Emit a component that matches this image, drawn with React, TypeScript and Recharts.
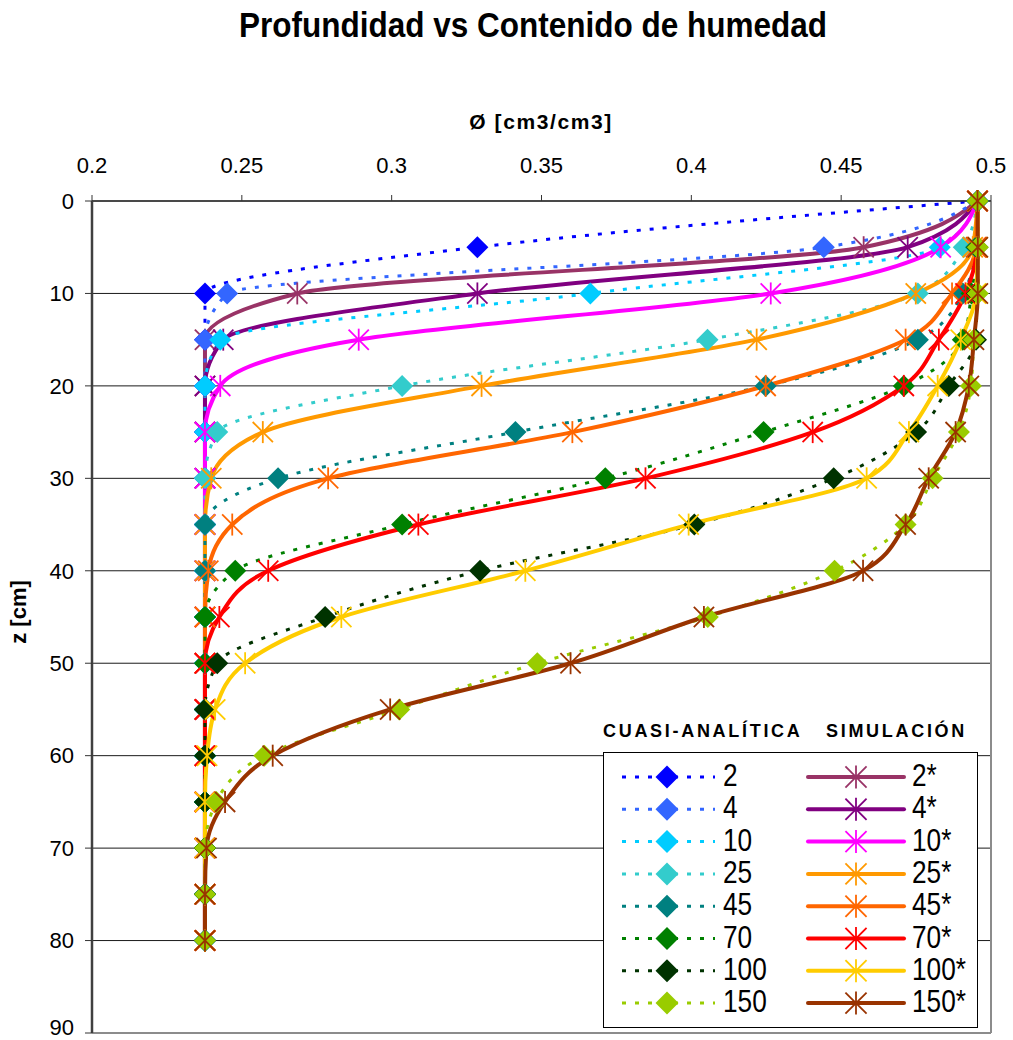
import React from 'react';
import { LineChart, Line, XAxis, YAxis, CartesianGrid, ReferenceLine } from 'recharts';

// depth of each profile point (cm)
const depths = [0, 5, 10, 15, 20, 25, 30, 35, 40, 45, 50, 55, 60, 65, 70, 75, 80];
const thetaTicks = [0.2, 0.25, 0.3, 0.35, 0.4, 0.45, 0.5];
const depthTicks = [0, 10, 20, 30, 40, 50, 60, 70, 80, 90];

// quasi-analytic solution, water content (cm3/cm3) per depth
const q2 = [0.4955, 0.3286, 0.2377, 0.2377, 0.2377, 0.2377, 0.2377, 0.2377, 0.2377, 0.2377, 0.2377, 0.2377, 0.2377, 0.2377, 0.2377, 0.2377, 0.2377];
const q4 = [0.4955, 0.4442, 0.2451, 0.2377, 0.2377, 0.2377, 0.2377, 0.2377, 0.2377, 0.2377, 0.2377, 0.2377, 0.2377, 0.2377, 0.2377, 0.2377, 0.2377];
const q10 = [0.4955, 0.4829, 0.3663, 0.2428, 0.2377, 0.2377, 0.2377, 0.2377, 0.2377, 0.2377, 0.2377, 0.2377, 0.2377, 0.2377, 0.2377, 0.2377, 0.2377];
const q25 = [0.4955, 0.4909, 0.4756, 0.4054, 0.3035, 0.2418, 0.2377, 0.2377, 0.2377, 0.2377, 0.2377, 0.2377, 0.2377, 0.2377, 0.2377, 0.2377, 0.2377];
const q45 = [0.4955, 0.495, 0.4906, 0.4756, 0.4248, 0.3413, 0.2621, 0.2377, 0.2377, 0.2377, 0.2377, 0.2377, 0.2377, 0.2377, 0.2377, 0.2377, 0.2377];
const q70 = [0.4955, 0.4953, 0.4935, 0.4906, 0.4709, 0.4241, 0.3713, 0.3035, 0.2478, 0.2377, 0.2377, 0.2377, 0.2377, 0.2377, 0.2377, 0.2377, 0.2377];
const q100 = [0.4955, 0.4955, 0.4953, 0.495, 0.4859, 0.475, 0.4475, 0.401, 0.3295, 0.2778, 0.2418, 0.2377, 0.2377, 0.2377, 0.2377, 0.2377, 0.2377];
const q150 = [0.4955, 0.4956, 0.4956, 0.4943, 0.4933, 0.4893, 0.4805, 0.4715, 0.4478, 0.4055, 0.3486, 0.3025, 0.2575, 0.2415, 0.2377, 0.2377, 0.2377];

// numerical simulation, water content (cm3/cm3) per depth
const s2 = [0.4955, 0.4575, 0.2685, 0.2377, 0.2377, 0.2377, 0.2377, 0.2377, 0.2377, 0.2377, 0.2377, 0.2377, 0.2377, 0.2377, 0.2377, 0.2377, 0.2377];
const s4 = [0.4955, 0.4722, 0.3286, 0.2438, 0.2377, 0.2377, 0.2377, 0.2377, 0.2377, 0.2377, 0.2377, 0.2377, 0.2377, 0.2377, 0.2377, 0.2377, 0.2377];
const s10 = [0.4955, 0.4832, 0.4265, 0.289, 0.2428, 0.2377, 0.2377, 0.2377, 0.2377, 0.2377, 0.2377, 0.2377, 0.2377, 0.2377, 0.2377, 0.2377, 0.2377];
const s25 = [0.4955, 0.4939, 0.4749, 0.4218, 0.33, 0.257, 0.2398, 0.2377, 0.2377, 0.2377, 0.2377, 0.2377, 0.2377, 0.2377, 0.2377, 0.2377, 0.2377];
const s45 = [0.4955, 0.495, 0.487, 0.4715, 0.4248, 0.3603, 0.2788, 0.2468, 0.2388, 0.2377, 0.2377, 0.2377, 0.2377, 0.2377, 0.2377, 0.2377, 0.2377];
const s70 = [0.4955, 0.4953, 0.4915, 0.4826, 0.4709, 0.4405, 0.3847, 0.3089, 0.2588, 0.2425, 0.2377, 0.2377, 0.2377, 0.2377, 0.2377, 0.2377, 0.2377];
const s100 = [0.4955, 0.4955, 0.495, 0.4899, 0.4822, 0.4726, 0.4585, 0.3991, 0.3446, 0.2832, 0.2511, 0.2411, 0.2384, 0.2377, 0.2377, 0.2377, 0.2377];
const s150 = [0.4955, 0.4956, 0.4956, 0.4943, 0.4926, 0.4882, 0.4792, 0.4715, 0.4573, 0.4042, 0.3597, 0.2995, 0.2603, 0.2444, 0.2382, 0.2377, 0.2377];

type Series = { key: string; label: string; color: string; values: number[]; sim: boolean };

// drawn in this order: each analytic profile followed by its simulated one
const series: Series[] = [
  { key: 'q2', label: '2', color: '#0000FF', values: q2, sim: false },
  { key: 's2', label: '2*', color: '#993366', values: s2, sim: true },
  { key: 'q4', label: '4', color: '#3366FF', values: q4, sim: false },
  { key: 's4', label: '4*', color: '#800080', values: s4, sim: true },
  { key: 'q10', label: '10', color: '#00CCFF', values: q10, sim: false },
  { key: 's10', label: '10*', color: '#FF00FF', values: s10, sim: true },
  { key: 'q25', label: '25', color: '#33CCCC', values: q25, sim: false },
  { key: 's25', label: '25*', color: '#FF9900', values: s25, sim: true },
  { key: 'q45', label: '45', color: '#008080', values: q45, sim: false },
  { key: 's45', label: '45*', color: '#FF6600', values: s45, sim: true },
  { key: 'q70', label: '70', color: '#008000', values: q70, sim: false },
  { key: 's70', label: '70*', color: '#FF0000', values: s70, sim: true },
  { key: 'q100', label: '100', color: '#003300', values: q100, sim: false },
  { key: 's100', label: '100*', color: '#FFCC00', values: s100, sim: true },
  { key: 'q150', label: '150', color: '#99CC00', values: q150, sim: false },
  { key: 's150', label: '150*', color: '#993300', values: s150, sim: true },
];

const rows = depths.map((z, i) => {
  const row: Record<string, number> = { z };
  series.forEach((s) => { row[s.key] = s.values[i]; });
  return row;
});

const FONT = "'Liberation Sans', Arial, sans-serif";
const DOTTED = '4 9';

function Diamond({ cx, cy, color, r = 11 }: { cx: number; cy: number; color: string; r?: number }) {
  return <path d={`M${cx},${cy - r}L${cx + r},${cy}L${cx},${cy + r}L${cx - r},${cy}Z`} fill={color} />;
}

function Star({ cx, cy, color, r = 11 }: { cx: number; cy: number; color: string; r?: number }) {
  const d = r * 0.92;
  return (
    <g stroke={color} strokeWidth={1.8}>
      <line x1={cx} y1={cy - r} x2={cx} y2={cy + r} />
      <line x1={cx - d} y1={cy - d} x2={cx + d} y2={cy + d} />
      <line x1={cx - d} y1={cy + d} x2={cx + d} y2={cy - d} />
    </g>
  );
}

function markerFor(s: Series) {
  return (props: any) => {
    const { cx, cy, index } = props;
    if (cx == null || cy == null) return <g key={`${s.key}-${index}`} />;
    return s.sim
      ? <Star key={`${s.key}-${index}`} cx={cx} cy={cy} color={s.color} />
      : <Diamond key={`${s.key}-${index}`} cx={cx} cy={cy} color={s.color} />;
  };
}

function Legend() {
  const quasi = series.filter((s) => !s.sim);
  const sim = series.filter((s) => s.sim);
  const rowY = (i: number) => 25 + i * 32.3;
  return (
    <svg width={375} height={276} style={{ position: 'absolute', left: 603, top: 752, background: '#fff' }}>
      <rect x={0.5} y={0.5} width={374} height={275} fill="#fff" stroke="#000" strokeWidth={1} />
      {quasi.map((s, i) => (
        <g key={s.key}>
          <line x1={19} x2={112} y1={rowY(i)} y2={rowY(i)} stroke={s.color} strokeWidth={3} strokeDasharray={DOTTED} />
          <Diamond cx={64} cy={rowY(i)} color={s.color} r={11.5} />
          <text transform={`translate(120 ${rowY(i) + 9}) scale(0.82 1)`} fontSize={32} fontFamily={FONT} fill="#000">{s.label}</text>
        </g>
      ))}
      {sim.map((s, i) => (
        <g key={s.key}>
          <line x1={205} x2={301} y1={rowY(i)} y2={rowY(i)} stroke={s.color} strokeWidth={4} strokeLinecap="round" />
          <Star cx={253} cy={rowY(i)} color={s.color} r={11.5} />
          <text transform={`translate(309 ${rowY(i) + 9}) scale(0.82 1)`} fontSize={32} fontFamily={FONT} fill="#000">{s.label}</text>
        </g>
      ))}
    </svg>
  );
}

export default function App() {
  return (
    <div style={{ position: 'absolute', left: 0, top: 0, width: 1013, height: 1040, background: '#fff', fontFamily: FONT }}>
      <div style={{ position: 'absolute', left: 533, top: 25, transform: 'translate(-50%, -50%) scaleY(1.12)', whiteSpace: 'nowrap', fontSize: 31.5, fontWeight: 'bold' }}>
        Profundidad vs Contenido de humedad
      </div>
      <div style={{ position: 'absolute', left: 541, top: 122, transform: 'translate(-50%, -50%)', whiteSpace: 'nowrap', fontSize: 21, fontWeight: 'bold', letterSpacing: 1.6 }}>
        Ø [cm3/cm3]
      </div>
      <div style={{ position: 'absolute', left: 19, top: 612, transform: 'translate(-50%, -50%) rotate(-90deg)', whiteSpace: 'nowrap', fontSize: 22, fontWeight: 'bold' }}>
        z [cm]
      </div>

      <LineChart
        width={1013}
        height={1040}
        data={rows}
        layout="vertical"
        margin={{ top: 161, right: 22, bottom: 7, left: 32 }}
      >
        <CartesianGrid horizontal vertical={false} stroke="#1a1a1a" strokeWidth={1} />
        <XAxis
          type="number"
          orientation="top"
          domain={[0.2, 0.5]}
          ticks={thetaTicks}
          allowDataOverflow
          height={40}
          tickSize={6}
          tickMargin={22}
          tick={{ fontSize: 22, fill: '#000' }}
          axisLine={{ stroke: '#333', strokeWidth: 1.5 }}
          tickLine={{ stroke: '#333' }}
        />
        <YAxis
          type="number"
          dataKey="z"
          domain={[0, 90]}
          ticks={depthTicks}
          width={60}
          tickSize={7}
          tickMargin={11}
          tick={{ fontSize: 22, fill: '#000' }}
          axisLine={{ stroke: '#404040', strokeWidth: 2.5 }}
          tickLine={{ stroke: '#333' }}
        />
        <ReferenceLine x={0.5} stroke="#8c8c8c" strokeWidth={2} />
        <ReferenceLine y={90} stroke="#8c8c8c" strokeWidth={2} />
        {series.map((s) => (
          <Line
            key={s.key}
            dataKey={s.key}
            type="monotone"
            stroke={s.color}
            strokeWidth={s.sim ? 4 : 3}
            strokeDasharray={s.sim ? undefined : DOTTED}
            dot={markerFor(s)}
            activeDot={false}
            legendType="none"
            isAnimationActive={false}
          />
        ))}
      </LineChart>

      <div style={{ position: 'absolute', left: 603, top: 731, transform: 'translateY(-50%)', fontSize: 18, fontWeight: 'bold', letterSpacing: 2.7, whiteSpace: 'nowrap' }}>
        CUASI-ANALÍTICA
      </div>
      <div style={{ position: 'absolute', left: 826, top: 731, transform: 'translateY(-50%)', fontSize: 18, fontWeight: 'bold', letterSpacing: 2.7, whiteSpace: 'nowrap' }}>
        SIMULACIÓN
      </div>
      <Legend />
    </div>
  );
}
